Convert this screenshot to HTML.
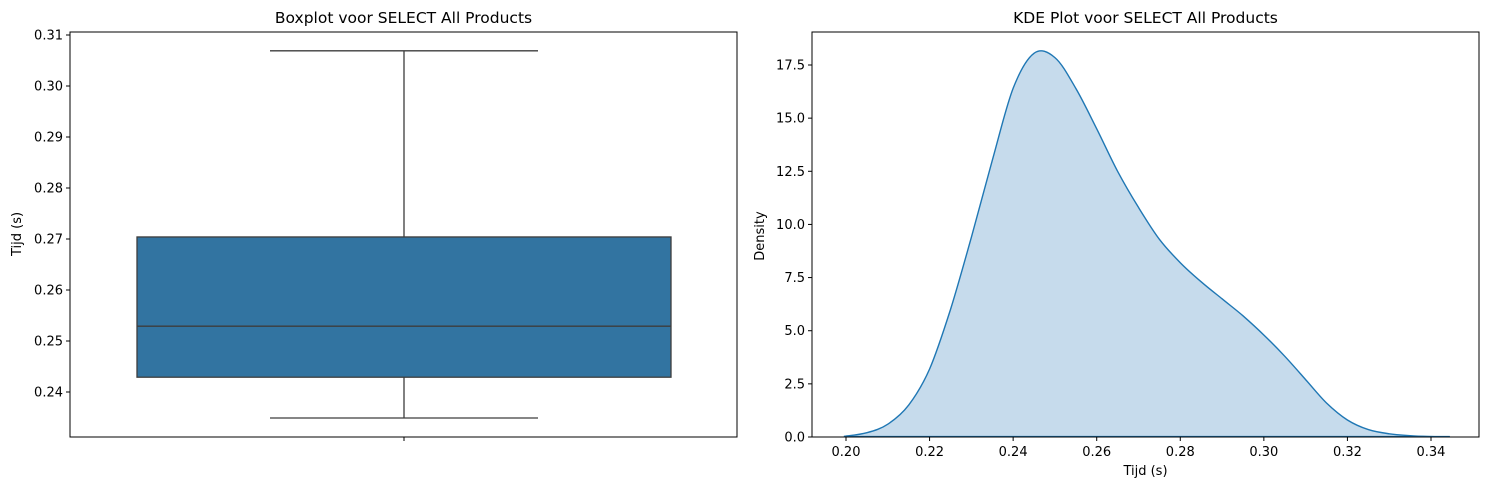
<!DOCTYPE html>
<html><head><meta charset="utf-8"><style>
body{margin:0;background:#fff;}
svg{display:block;font-family:"DejaVu Sans","Liberation Sans",sans-serif;}
</style></head><body>
<svg id="fig" width="1489" height="490" viewBox="0 0 1489 490"></svg>
<script>
const boxStats = [0.2349, 0.2429, 0.2529, 0.2704, 0.3069]; // min, q1, median, q3, max
const boxTicks = [0.24, 0.25, 0.26, 0.27, 0.28, 0.29, 0.30, 0.31];
const kdeX = [0.1995,0.205,0.21,0.215,0.22,0.225,0.23,0.235,0.24,0.245,0.25,0.255,0.26,0.265,0.27,0.275,0.28,0.285,0.29,0.295,0.30,0.305,0.31,0.315,0.32,0.325,0.33,0.335,0.34,0.3445];
const kdeY = [0.03,0.2,0.6,1.5,3.2,6.0,9.4,13.0,16.4,18.05,17.85,16.4,14.5,12.5,10.8,9.3,8.2,7.3,6.5,5.7,4.8,3.8,2.7,1.6,0.8,0.35,0.15,0.06,0.02,0.01];
const kdeXTicks = [0.20,0.22,0.24,0.26,0.28,0.30,0.32,0.34];
const kdeYTicks = [0,2.5,5,7.5,10,12.5,15,17.5];

const svg = document.getElementById('fig');
const NS = 'http://www.w3.org/2000/svg';
function mk(tag, attrs, parent){const e=document.createElementNS(NS,tag);for(const k in attrs)e.setAttribute(k,attrs[k]);(parent||svg).appendChild(e);return e;}

// ---- Left: boxplot ----
const L = {x0:70, x1:737, y0:32, y1:437};
const by = v => 392 - (v-0.24)/0.01*51;
const gL = mk('g',{});


const cx = 404;
const w1 = mk('line',{x1:cx,x2:cx,y1:by(boxStats[3]),y2:by(boxStats[4]),stroke:'#3d3d3d','stroke-width':1.3},gL);
 
const w2 = mk('line',{x1:cx,x2:cx,y1:by(boxStats[0]),y2:by(boxStats[1]),stroke:'#3d3d3d','stroke-width':1.3},gL);
 
const c1 = mk('line',{x1:270,x2:538,y1:by(boxStats[4]),y2:by(boxStats[4]),stroke:'#3d3d3d','stroke-width':1.3},gL);
 
const c2 = mk('line',{x1:270,x2:538,y1:by(boxStats[0]),y2:by(boxStats[0]),stroke:'#3d3d3d','stroke-width':1.3},gL);
 
const bx = mk('rect',{x:137,y:by(boxStats[3]),width:534,height:by(boxStats[1])-by(boxStats[3]),fill:'#3274a1',stroke:'#3d3d3d','stroke-width':1.3},gL);
 
const md = mk('line',{x1:137,x2:671,y1:by(boxStats[2]),y2:by(boxStats[2]),stroke:'#3d3d3d','stroke-width':1.3},gL);
 
const fr = mk('rect',{x:L.x0,y:L.y0,width:L.x1-L.x0,height:L.y1-L.y0,fill:'none',stroke:'#000','stroke-width':1},gL);
 
boxTicks.forEach(t=>{
  const y=by(t);
  const tk=mk('line',{x1:L.x0-4,x2:L.x0,y1:y,y2:y,stroke:'#000'},gL);
   
  const tx=mk('text',{x:L.x0-7,y:y+4.5,'text-anchor':'end','font-size':13},gL);
  tx.textContent=t.toFixed(2);
   
});
const xt=mk('line',{x1:cx,x2:cx,y1:L.y1,y2:L.y1+4,stroke:'#000'},gL);
 
const t1=mk('text',{x:(L.x0+L.x1)/2,y:23,'text-anchor':'middle','font-size':15.5},gL);
t1.textContent='Boxplot voor SELECT All Products';
 
const yl=mk('text',{x:0,y:0,'text-anchor':'middle','font-size':13,transform:'translate(21,234) rotate(-90)'},gL);
yl.textContent='Tijd (s)';
 

// ---- Right: KDE ----
const R = {x0:812, x1:1479, y0:32, y1:437};
const kx = v => 846 + (v-0.20)/0.02*83.57;
const ky = v => 437 - v/17.5*372;
const gR = mk('g',{});


const pts = kdeX.map((x,i)=>[kx(x),ky(kdeY[i])]);
let d='M'+pts[0][0].toFixed(1)+','+pts[0][1].toFixed(1);
for(let i=0;i<pts.length-1;i++){
  const p0=pts[Math.max(0,i-1)],p1=pts[i],p2=pts[i+1],p3=pts[Math.min(pts.length-1,i+2)];
  const c1x=p1[0]+(p2[0]-p0[0])/6,c1y=p1[1]+(p2[1]-p0[1])/6;
  const c2x=p2[0]-(p3[0]-p1[0])/6,c2y=p2[1]-(p3[1]-p1[1])/6;
  d+='C'+c1x.toFixed(1)+','+c1y.toFixed(1)+' '+c2x.toFixed(1)+','+c2y.toFixed(1)+' '+p2[0].toFixed(1)+','+p2[1].toFixed(1);
}
const area=mk('path',{d:d+'L'+kx(kdeX[kdeX.length-1])+','+ky(0)+'L'+kx(kdeX[0])+','+ky(0)+'Z',fill:'#c6dbec',stroke:'none'},gR);
 
const ln=mk('path',{d:d,fill:'none',stroke:'#1f77b4','stroke-width':1.4,'stroke-linejoin':'round'},gR);
 
const base=mk('line',{x1:kx(kdeX[0]),x2:kx(kdeX[kdeX.length-1]),y1:ky(0)-0.5,y2:ky(0)-0.5,stroke:'#1f77b4','stroke-width':1.2},gR);
 
const fr2=mk('rect',{x:R.x0,y:R.y0,width:R.x1-R.x0,height:R.y1-R.y0,fill:'none',stroke:'#000','stroke-width':1},gR);
 
kdeXTicks.forEach(t=>{
  const x=kx(t);
  const tk=mk('line',{x1:x,x2:x,y1:R.y1,y2:R.y1+4,stroke:'#000'},gR);
   
  const tx=mk('text',{x:x,y:R.y1+19,'text-anchor':'middle','font-size':13},gR);
  tx.textContent=t.toFixed(2);
   
});
kdeYTicks.forEach(t=>{
  const y=ky(t);
  const tk=mk('line',{x1:R.x0-4,x2:R.x0,y1:y,y2:y,stroke:'#000'},gR);
   
  const tx=mk('text',{x:R.x0-7,y:y+4.5,'text-anchor':'end','font-size':13},gR);
  tx.textContent=t.toFixed(1);
   
});
const t2=mk('text',{x:(R.x0+R.x1)/2,y:23,'text-anchor':'middle','font-size':15.5},gR);
t2.textContent='KDE Plot voor SELECT All Products';
 
const xl=mk('text',{x:(R.x0+R.x1)/2,y:475,'text-anchor':'middle','font-size':13},gR);
xl.textContent='Tijd (s)';
 
const yl2=mk('text',{x:0,y:0,'text-anchor':'middle','font-size':13,transform:'translate(764,236) rotate(-90)'},gR);
yl2.textContent='Density';
 
</script>
</body></html>
